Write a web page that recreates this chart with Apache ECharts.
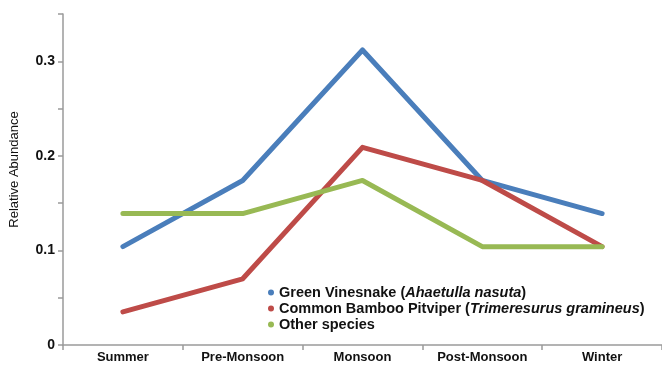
<!DOCTYPE html>
<html>
<head>
<meta charset="utf-8">
<script src="https://cdn.jsdelivr.net/npm/echarts@6/dist/echarts.min.js"></script>
<style>html,body{margin:0;padding:0;background:#fff}#c{width:662px;height:366px}</style>
</head>
<body>
<div id="c"></div>
<script>
const categories = ['Summer', 'Pre-Monsoon', 'Monsoon', 'Post-Monsoon', 'Winter'];
const greenVinesnake = [0.104, 0.174, 0.312, 0.174, 0.139];
const bambooPitviper = [0.035, 0.070, 0.209, 0.174, 0.104];
const otherSpecies = [0.139, 0.139, 0.174, 0.104, 0.104];
const seriesNames = ['Green Vinesnake (Ahaetulla nasuta)', 'Common Bamboo Pitviper (Trimeresurus gramineus)', 'Other species'];
const yTickLabels = ['0', '0.1', '0.2', '0.3'];

const legendRich = {
  'Green Vinesnake (Ahaetulla nasuta)': '{n|Green Vinesnake (}{i|Ahaetulla nasuta}{n|)}',
  'Common Bamboo Pitviper (Trimeresurus gramineus)': '{n|Common Bamboo Pitviper (}{i|Trimeresurus gramineus}{n|)}',
  'Other species': '{n|Other species}'
};

const FONT = 'Liberation Sans, Arial, sans-serif';
const chart = echarts.init(document.getElementById('c'));
const lineStyleBase = { width: 5, cap: 'round', join: 'round' };
chart.setOption({
  animation: false,
  backgroundColor: '#fff',
  grid: { left: 63, top: 14, width: 605, height: 331, containLabel: false },
  legend: {
    orient: 'vertical', left: 263, top: 280, itemGap: 1,
    icon: 'circle', itemWidth: 6, itemHeight: 6,
    data: seriesNames,
    formatter: n => legendRich[n],
    textStyle: {
      rich: {
        n: { fontFamily: FONT, fontSize: 14.5, fontWeight: 'bold', color: '#111', lineHeight: 16 },
        i: { fontFamily: FONT, fontSize: 14.5, fontWeight: 'bold', fontStyle: 'italic', color: '#111', lineHeight: 16 }
      }
    }
  },
  xAxis: {
    type: 'category', data: categories, boundaryGap: true,
    axisLine: { lineStyle: { color: '#9a9a9a', width: 1.5 } },
    axisTick: { show: true, alignWithLabel: false, length: 5, lineStyle: { color: '#9a9a9a', width: 1.5 } },
    axisLabel: { margin: 6, color: '#111', fontSize: 13, fontWeight: 'bold', fontFamily: FONT }
  },
  yAxis: {
    type: 'value', min: 0, max: 0.35, interval: 0.05,
    name: 'Relative Abundance', nameLocation: 'middle', nameGap: 42,
    nameTextStyle: { color: '#111', fontSize: 13, fontFamily: FONT, padding: [0, 0, 0, 20] },
    splitLine: { show: false },
    axisLine: { show: true, lineStyle: { color: '#9a9a9a', width: 1.5 } },
    axisTick: { show: true, length: 5, lineStyle: { color: '#9a9a9a', width: 1.5 } },
    axisLabel: {
      margin: 8, color: '#111', fontSize: 14, fontWeight: 'bold', fontFamily: FONT,
      formatter: v => {
        const k = Math.round(v * 100);
        return k % 10 === 0 ? yTickLabels[k / 10] : '';
      }
    }
  },
  series: [
    { name: seriesNames[0], type: 'line', data: greenVinesnake, showSymbol: false, symbol: 'circle', color: '#4a7ebb', lineStyle: Object.assign({ color: '#4a7ebb' }, lineStyleBase) },
    { name: seriesNames[1], type: 'line', data: bambooPitviper, showSymbol: false, symbol: 'circle', color: '#be4b48', lineStyle: Object.assign({ color: '#be4b48' }, lineStyleBase) },
    { name: seriesNames[2], type: 'line', data: otherSpecies, showSymbol: false, symbol: 'circle', color: '#98b954', lineStyle: Object.assign({ color: '#98b954' }, lineStyleBase) }
  ]
});
</script>
</body>
</html>
